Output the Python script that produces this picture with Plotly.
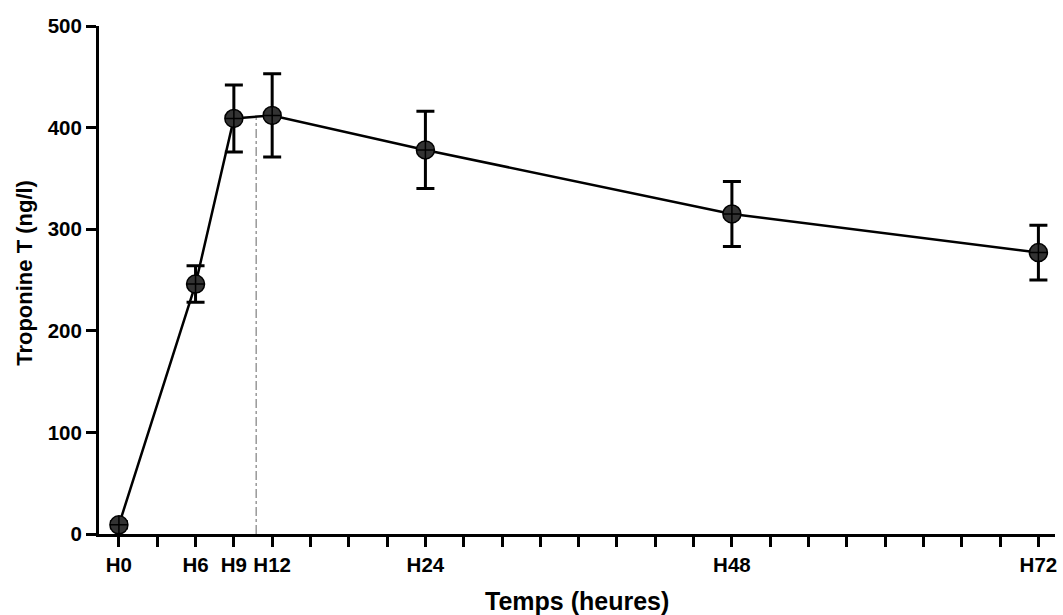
import numpy as np
import plotly.graph_objects as go

hours = [0, 6, 9, 12, 24, 48, 72]
tropo = [9, 246, 409, 412, 378, 315, 277]
err = [3, 18, 33, 41, 38, 32, 27]
tick_hours = list(range(0, 73, 3))
tick_labels = {0: "H0", 6: "H6", 9: "H9", 12: "H12", 24: "H24", 48: "H48", 72: "H72"}
y_ticks = [0, 100, 200, 300, 400, 500]
t_peak = 10.75

peak_val = float(np.interp(t_peak, hours, tropo))

fig = go.Figure()
fig.add_trace(go.Scatter(
    x=[t_peak, t_peak], y=[0, peak_val], mode="lines",
    line=dict(color="#999999", width=1.5, dash="dashdot"),
    showlegend=False, hoverinfo="skip"))
fig.add_trace(go.Scatter(
    x=hours, y=tropo, mode="lines+markers",
    line=dict(color="black", width=2.5),
    marker=dict(symbol="circle-cross", size=18, color="#333333",
                line=dict(color="black", width=1.5)),
    error_y=dict(type="data", array=err, visible=True, color="black",
                 thickness=3, width=9),
    showlegend=False))

font = dict(family="Liberation Sans, Arial, sans-serif", color="black")
fig.update_layout(
    width=1063, height=615,
    margin=dict(l=99, r=6, t=26, b=81),
    plot_bgcolor="white", paper_bgcolor="white",
    showlegend=False,
    xaxis=dict(
        range=[-1.56, 73.3], showgrid=False, zeroline=False,
        showline=True, linecolor="black", linewidth=3,
        ticks="outside", ticklen=10, tickwidth=3, tickcolor="black",
        tickvals=tick_hours,
        ticktext=["<b>%s</b>" % tick_labels.get(h, "") for h in tick_hours],
        tickfont=dict(size=20.5, **font),
    ),
    yaxis=dict(
        range=[0, 500], showgrid=False, zeroline=False,
        showline=True, linecolor="black", linewidth=3,
        ticks="outside", ticklen=10, tickwidth=3, tickcolor="black",
        tickvals=y_ticks,
        ticktext=["<b>%d</b>" % v for v in y_ticks],
        tickfont=dict(size=20.5, **font),
    ),
    annotations=[
        dict(text="<b>Temps (heures)</b>", xref="paper", yref="paper",
             x=0.5, y=-0.132, xanchor="center", yanchor="middle",
             showarrow=False, font=dict(size=25, **font)),
        dict(text="<b>Troponine T (ng/l)</b>", xref="paper", yref="paper",
             x=-0.078, y=0.515, xanchor="center", yanchor="middle",
             textangle=-90, showarrow=False, font=dict(size=22, **font)),
    ],
)

fig.write_html("out.html")
